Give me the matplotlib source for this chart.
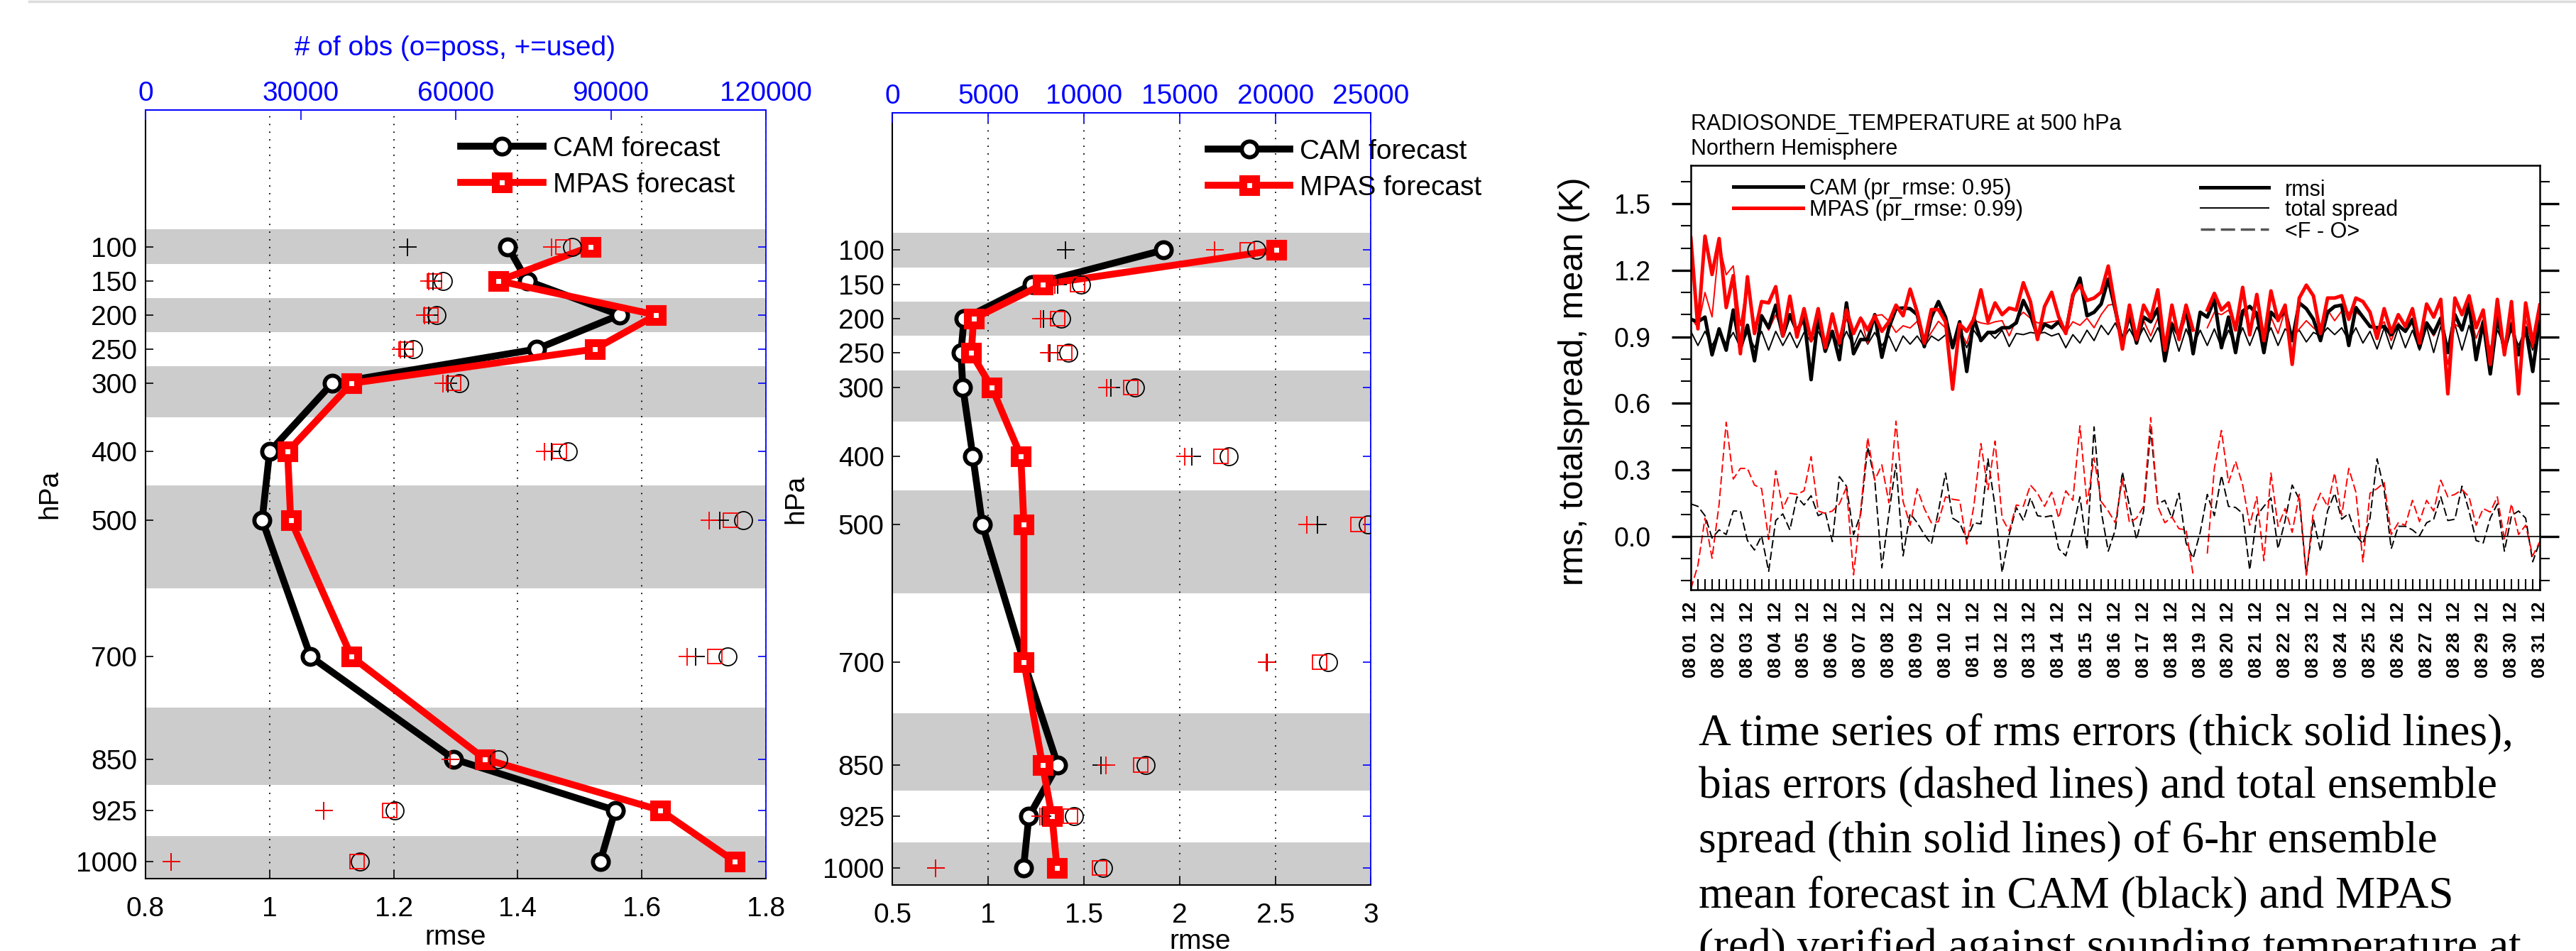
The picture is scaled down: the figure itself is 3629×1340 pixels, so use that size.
import numpy as np
import matplotlib
matplotlib.use('Agg')
import matplotlib.pyplot as plt
from matplotlib.lines import Line2D
from matplotlib.ticker import MultipleLocator

plt.rcParams['font.family'] = ['Liberation Sans', 'DejaVu Sans']

# niveis de pressao (hPa)
levels = [100, 150, 200, 250, 300, 400, 500, 700, 850, 925, 1000]
level_labels = ['100', '150', '200', '250', '300', '400', '500', '700', '850', '925', '1000']

# painel 1 (esquerda)
p1_cam_rmse = [1.384, 1.415, 1.564, 1.430, 1.101, 1.000, 0.988, 1.066, 1.297, 1.557, 1.533]
p1_mpas_rmse = [1.517, 1.369, 1.623, 1.524, 1.132, 1.029, 1.034, 1.132, 1.347, 1.630, 1.750]
p1_cam_poss = [82490, 57480, 56320, 51700, 60740, 81650, 115590, 112650, 68200, 48230, 41510]
p1_mpas_poss = [80800, 55900, 55170, 50440, 59580, 80070, 113170, 110120, 65680, 47290, 40880]
p1_cam_used = [50650, 55590, 54850, 50120, 58530, 78500, 111070, 106340, 58840, 34470, 4940]
p1_mpas_used = [78500, 54850, 54010, 49280, 57480, 77230, 108970, 104770, 58840, 34470, 4940]

# painel 2 (meio)
p2_cam_rmse = [1.915, 1.228, 0.873, 0.857, 0.867, 0.919, 0.969, 1.186, 1.363, 1.212, 1.184]
p2_mpas_rmse = [2.506, 1.283, 0.923, 0.911, 1.018, 1.170, 1.186, 1.186, 1.283, 1.333, 1.359]
p2_cam_poss = [18996, 9839, 8815, 9197, 12670, 17550, 24820, 22770, 13230, 9478, 10980]
p2_mpas_poss = [18530, 9660, 8630, 8990, 12430, 17170, 24300, 22310, 12970, 9300, 10800]
p2_cam_used = [9036, 8635, 7890, 8230, 11400, 15620, 22210, 19580, 10900, 7790, 2229]
p2_mpas_used = [16830, 8494, 7730, 8130, 11200, 15280, 21650, 19540, 11140, 7690, 2229]

# serie temporal 500 hPa (6 em 6 horas, 08 01 12 ate 08 31 12)
nan = np.nan
cam_rmse = [0.979, 0.968, 0.989, 0.819, 0.936, 0.840, 1.021, 0.845, 0.952, 0.792,
            0.995, 0.941, 1.043, 0.904, 1.000, 0.925, 0.989, 0.707, 0.989, 0.835,
            0.925, 0.797, 1.053, 0.824, 0.888, 0.888, 1.000, 0.808, 0.941, 1.027,
            1.030, 1.027, 1.000, 0.856, 0.989, 1.059, 0.989, 0.851, 0.968, 0.744,
            0.985, 0.883, 0.920, 0.920, 0.941, 0.941, 0.963, 1.064, 1.000, 0.904,
            0.957, 0.941, 0.968, 0.920, 1.085, 1.165, 0.995, 1.011, 1.048, 1.160,
            1.021, 0.872, 1.000, 0.872, 0.989, 0.968, 1.027, 0.792, 0.957, 0.904,
            1.032, 0.824, 1.011, 0.989, 1.069, 0.851, 0.989, 0.829, 1.016, 1.037,
            1.005, 0.829, 1.011, 0.979, 1.021, 0.883, 1.053, 1.027, 0.979, 0.883,
            1.011, 1.037, 1.043, 0.861, 1.032, 0.989, 0.947, 0.941, 0.947, 0.909,
            0.952, 0.925, 0.979, 0.851, 0.963, 0.915, 0.984, 0.829, 1.000, 0.931,
            1.048, 0.797, 0.968, 0.733, 0.989, 0.840, 0.957, 0.819, 0.941, 0.744,
            0.984]
mpas_rmse = [1.346, 0.936, 1.354, 1.181, 1.343, 1.032, 1.176, 0.824, 1.171, 0.915,
             1.059, 1.053, 1.126, 0.904, 1.083, 0.899, 1.027, 0.883, 1.027, 0.851,
             1.003, 0.872, 1.021, 0.915, 0.984, 0.931, 0.995, 0.925, 0.968, 1.043,
             0.995, 1.115, 1.011, 0.872, 1.023, 1.023, 0.968, 0.664, 0.957, 0.925,
             0.980, 1.112, 0.968, 1.053, 1.000, 1.030, 1.021, 1.144, 1.059, 0.888,
             1.037, 1.101, 0.990, 0.915, 1.091, 1.133, 1.064, 1.075, 1.101, 1.219,
             1.032, 0.845, 1.043, 0.888, 1.043, 0.984, 1.112, 0.840, 1.043, 0.888,
             1.043, 0.931, nan, 1.021, 1.096, 1.021, 1.053, 0.931, 1.123, 0.909,
             1.091, 0.883, 1.107, 0.973, 1.043, 0.776, 1.075, 1.133, 1.085, 0.915,
             1.075, 1.075, 1.085, 0.979, 1.075, 1.059, 1.011, 0.893, 1.027, 0.920,
             1.000, 0.947, 1.027, 0.872, 1.048, 0.989, 1.069, 0.643, 1.075, 1.000,
             1.085, 0.941, 1.021, 0.776, 1.069, 0.819, 1.059, 0.643, 1.053, 0.872,
             1.043]
cam_spread = [0.925, 0.861, 0.925, 0.861, 0.925, 0.867, 0.920, 0.851, 0.920, 0.851,
              0.925, 0.840, 0.925, 0.861, 0.920, 0.851, 0.920, 0.877, 0.925, 0.861,
              0.920, 0.856, 0.925, 0.856, 0.931, 0.867, 0.920, 0.861, 0.904, 0.835,
              0.904, 0.867, 0.904, 0.856, 0.904, 0.883, 0.909, 0.872, 0.925, 0.851,
              0.930, 0.883, 0.925, 0.893, 0.930, 0.856, 0.915, 0.910, 0.920, 0.915,
              0.920, 0.904, 0.915, 0.851, 0.910, 0.872, 0.930, 0.883, 0.952, 0.910,
              0.963, 0.883, 0.936, 0.877, 0.941, 0.877, 0.941, 0.872, 0.941, 0.835,
              0.936, 0.861, 0.930, 0.861, 0.936, 0.851, 0.930, 0.861, 0.941, 0.861,
              0.944, 0.883, 0.941, 0.861, 0.936, 0.904, 0.930, 0.877, 0.920, 0.904,
              0.941, 0.910, 0.941, 0.883, 0.941, 0.872, 0.925, 0.845, 0.941, 0.845,
              0.941, 0.851, 0.930, 0.840, 0.947, 0.829, 0.947, 0.829, 0.957, 0.840,
              0.952, 0.840, 0.947, 0.840, 0.930, 0.861, 0.930, 0.861, 0.936, 0.840,
              0.941]
mpas_spread = [0.990, 0.940, 1.100, 0.990, 1.320, 1.180, 1.220, 0.950, 1.150, 0.960,
               1.000, 0.930, 1.000, 0.920, 0.990, 0.920, 0.970, 0.900, 0.980, 0.880,
               0.980, 0.890, 0.980, 0.915, 0.990, 0.870, 0.995, 1.000, 0.970, 0.920,
               0.950, 0.940, 0.970, 0.870, 0.920, 0.970, 0.940, 0.880, 0.930, 0.870,
               0.975, 0.963, 0.957, 0.968, 0.973, 0.904, 0.979, 1.011, 0.984, 0.963,
               0.963, 0.968, 0.973, 0.920, 0.968, 0.952, 0.984, 0.941, 1.000, 1.043,
               1.048, 0.893, 0.989, 0.893, 0.973, 0.904, 0.984, 0.883, 0.968, 0.893,
               0.989, 0.936, nan, 0.941, 1.011, 1.000, 1.021, 0.941, 1.021, 0.947,
               1.005, 0.861, 0.989, 0.915, 1.021, 0.893, 0.936, 0.973, 0.941, 0.915,
               1.021, 0.973, 1.016, 1.011, 1.011, 0.989, 0.947, 0.931, 0.968, 0.883,
               0.963, 0.920, 0.963, 0.861, 0.957, 0.904, 0.968, 0.776, 0.957, 0.936,
               1.021, 0.893, 0.979, 0.840, 0.989, 0.861, 0.968, 0.829, 0.979, 0.851,
               0.989]
cam_bias = [0.147, 0.136, 0.094, -0.007, 0.030, 0.009, 0.115, 0.115, -0.018, -0.061,
            0.003, -0.157, 0.072, 0.102, 0.030, 0.179, 0.142, 0.184, 0.094, 0.110,
            -0.023, 0.270, 0.227, 0.009, 0.099, 0.403, 0.254, -0.141, 0.104, 0.328,
            -0.087, 0.104, 0.062, 0.009, -0.034, 0.115, 0.286, 0.083, 0.062, -0.013,
            0.062, 0.057, 0.350, 0.136, -0.162, 0.009, 0.131, 0.072, 0.174, 0.094,
            0.088, 0.094, -0.055, -0.087, 0.030, 0.179, -0.055, 0.494, 0.115, -0.066,
            0.030, 0.291, 0.136, -0.013, 0.115, 0.483, 0.147, 0.163, 0.083, 0.195,
            -0.029, -0.098, 0.019, 0.190, 0.094, 0.275, 0.136, 0.131, 0.104, -0.151,
            0.094, 0.136, 0.174, -0.055, 0.072, 0.232, 0.168, -0.173, 0.078, -0.066,
            0.115, 0.195, 0.078, 0.104, 0.009, -0.034, 0.083, 0.350, 0.211, -0.055,
            0.046, 0.046, 0.030, 0.003, 0.062, 0.078, 0.179, 0.072, 0.078, 0.227,
            0.115, -0.018, -0.029, 0.083, 0.147, -0.066, 0.094, 0.115, 0.083, -0.114,
            -0.023]
mpas_bias = [-0.237, -0.130, 0.083, -0.098, 0.147, 0.515, 0.259, 0.307, 0.307, 0.232,
             0.216, -0.013, 0.296, 0.126, 0.195, 0.190, 0.206, 0.360, 0.115, 0.104,
             0.115, 0.147, 0.222, -0.173, 0.115, 0.446, 0.254, 0.323, 0.152, 0.520,
             0.158, 0.051, 0.216, 0.126, 0.062, 0.067, 0.179, 0.168, 0.163, -0.034,
             0.136, 0.419, 0.211, 0.430, 0.083, 0.025, 0.142, 0.136, 0.232, 0.195,
             0.136, 0.200, 0.083, 0.206, 0.163, 0.499, 0.147, 0.355, 0.158, 0.115,
             0.062, 0.259, 0.062, 0.083, 0.136, 0.536, 0.136, 0.062, 0.088, 0.035,
             0.030, -0.173, nan, -0.077, 0.307, 0.478, 0.243, 0.339, 0.232, 0.051,
             0.179, -0.109, 0.286, 0.046, 0.126, 0.019, 0.190, -0.173, 0.115, 0.195,
             0.136, 0.286, 0.094, 0.307, 0.200, -0.114, 0.195, 0.216, 0.243, 0.009,
             0.062, 0.051, 0.163, 0.067, 0.163, 0.115, 0.254, 0.179, 0.190, 0.211,
             0.179, 0.051, 0.126, 0.110, 0.179, -0.013, 0.147, 0.009, 0.051, -0.087,
             -0.023]
tick_days = list(range(1, 32))

for serie in [mpas_rmse, cam_spread, mpas_spread, cam_bias, mpas_bias]:
    assert len(serie) == len(cam_rmse)

caption = ['A time series of rms errors (thick solid lines),',
           'bias errors (dashed lines) and total ensemble',
           'spread (thin solid lines) of 6-hr ensemble',
           'mean forecast in CAM (black) and MPAS',
           '(red) verified against sounding temperature at']

W, H = 3630, 1340
fig = plt.figure(figsize=(W / 100, H / 100), dpi=100)

# linha cinza no topo da pagina
fig.add_artist(Line2D([41 / W, 1], [1 - 1.5 / H] * 2, color='#dcdcdc', lw=2.5))

P_BOTTOM, P_TOP = 1025, -100
FS = 28
LW = 7
CAM_M = dict(marker='o', ms=16, mew=4.2, mfc='white')
MPAS_M = dict(marker='s', ms=13, mew=8, mfc='white')


def profile_panel(rect, cam_r, mpas_r, cam_p, mpas_p, cam_u, mpas_u,
                  xlim, xticks, xlabels, obs_lim, obs_ticks, leg, hpa_x, rmse_xy):
    ax = fig.add_axes(rect)

    # faixas cinzas em niveis alternados
    n = len(levels)
    for k in range(0, n, 2):
        lo = (levels[k - 1] + levels[k]) / 2 if k > 0 else levels[0] - (levels[1] - levels[0]) / 2
        hi = (levels[k] + levels[k + 1]) / 2 if k < n - 1 else P_BOTTOM
        ax.axhspan(lo, hi, color='#cccccc', lw=0, zorder=0)

    ax.plot(cam_r, levels, color='k', lw=LW, zorder=3, **CAM_M)
    ax.plot(mpas_r, levels, color='r', lw=LW, zorder=4, **MPAS_M)

    ax.set_ylim(P_BOTTOM, P_TOP)
    ax.set_yticks(levels)
    ax.set_yticklabels(level_labels)
    ax.set_xlim(xlim)
    ax.set_xticks(xticks)
    ax.set_xticklabels(xlabels)
    ax.tick_params(direction='in', labelsize=FS, length=8, width=1.2, right=True)
    ax.tick_params(axis='y', pad=8.5)
    ax.tick_params(axis='x', pad=18)
    ax.grid(axis='x', color='k', lw=1.3, ls=(0, (1, 5)))
    for s in ['left', 'bottom']:
        ax.spines[s].set_linewidth(1.5)
    for s in ['top', 'right']:
        ax.spines[s].set_color('blue')
        ax.spines[s].set_linewidth(1.3)
    for t in ax.yaxis.get_major_ticks():
        t.tick2line.set_color('blue')
        t.tick2line.set_markeredgecolor('blue')

    ax.set_ylabel('hPa', fontsize=FS)
    ax.yaxis.set_label_coords(hpa_x, 0.5)
    ax.set_xlabel('rmse', fontsize=FS)
    ax.xaxis.set_label_coords(*rmse_xy)

    # legenda
    x0, x1, xt = leg
    ax.plot([x0, (x0 + x1) / 2, x1], [0.953] * 3, markevery=[1], color='k', lw=LW,
            transform=ax.transAxes, zorder=5, **CAM_M)
    ax.plot([x0, (x0 + x1) / 2, x1], [0.906] * 3, markevery=[1], color='r', lw=LW,
            transform=ax.transAxes, zorder=5, **MPAS_M)
    ax.text(xt, 0.953, 'CAM forecast', fontsize=FS, va='center_baseline', transform=ax.transAxes)
    ax.text(xt, 0.906, 'MPAS forecast', fontsize=FS, va='center_baseline', transform=ax.transAxes)

    # eixo de cima: numero de observacoes
    ax2 = ax.twiny()
    ax2.set_xlim(obs_lim)
    ax2.set_xticks(obs_ticks)
    ax2.set_xticklabels([str(v) for v in obs_ticks])
    ax2.tick_params(axis='x', colors='blue', direction='in', length=10, width=1.2,
                    labelsize=FS, pad=3.5)
    ax2.spines['top'].set_color('blue')
    ax2.spines['top'].set_linewidth(1.3)
    for s in ['left', 'right', 'bottom']:
        ax2.spines[s].set_visible(False)
    ax2.plot(cam_p, levels, 'o', ls='none', mfc='none', mec='k', ms=18, mew=1.3)
    ax2.plot(mpas_p, levels, 's', ls='none', mfc='none', mec='r', ms=15, mew=1.3)
    ax2.plot(cam_u, levels, '+', ls='none', color='k', ms=18, mew=1.3)
    ax2.plot(mpas_u, levels, '+', ls='none', color='r', ms=18, mew=1.3)
    return ax


profile_panel([205 / W, 1 - 1238 / H, 874 / W, 1083 / H],
              p1_cam_rmse, p1_mpas_rmse, p1_cam_poss, p1_mpas_poss, p1_cam_used, p1_mpas_used,
              (0.8, 1.8), [0.8, 1.0, 1.2, 1.4, 1.6, 1.8], ['0.8', '1', '1.2', '1.4', '1.6', '1.8'],
              (0, 120000), [0, 30000, 60000, 90000, 120000],
              (0.508, 0.641, 0.657), -0.134, (0.5, -0.060))

profile_panel([1257.5 / W, 1 - 1247 / H, 674 / W, 1088 / H],
              p2_cam_rmse, p2_mpas_rmse, p2_cam_poss, p2_mpas_poss, p2_cam_used, p2_mpas_used,
              (0.5, 3.0), [0.5, 1.0, 1.5, 2.0, 2.5, 3.0], ['0.5', '1', '1.5', '2', '2.5', '3'],
              (0, 25000), [0, 5000, 10000, 15000, 20000, 25000],
              (0.660, 0.830, 0.851), -0.176, (0.642, -0.057))

fig.text(641 / W, 1 - 78 / H, '# of obs (o=poss, +=used)', color='blue', fontsize=FS,
         ha='center', va='baseline')

# painel 3: serie temporal
ax3 = fig.add_axes([2382 / W, 1 - 831 / H, 1196 / W, 598 / H])
t = np.arange(len(cam_rmse))
ax3.plot(t, cam_spread, color='k', lw=1.4)
ax3.plot(t, mpas_spread, color='r', lw=1.4)
ax3.plot(t, cam_rmse, color='k', lw=3.6)
ax3.plot(t, mpas_rmse, color='r', lw=3.6)
ax3.plot(t, cam_bias, color='k', lw=1.4, dashes=(6, 2.5))
ax3.plot(t, mpas_bias, color='r', lw=1.4, dashes=(6, 2.5))
ax3.axhline(0, color='k', lw=1.2)

ax3.set_xlim(0, len(t) - 1)
ax3.set_ylim(-0.24, 1.673)
ax3.set_yticks([0.0, 0.3, 0.6, 0.9, 1.2, 1.5])
ax3.set_yticklabels(['0.0', '0.3', '0.6', '0.9', '1.2', '1.5'])
ax3.yaxis.set_minor_locator(MultipleLocator(0.1))
ax3.tick_params(axis='y', which='both', direction='out', left=True, right=True, labelsize=27)
ax3.tick_params(axis='y', which='major', length=19.5, width=2.4, pad=21)
ax3.tick_params(axis='y', which='minor', length=10, width=1.5)

ax3.set_xticks(t[::4])
ax3.set_xticklabels(['08 %02d  12' % d for d in tick_days], rotation=90,
                    fontsize=18.5, fontweight='bold')
ax3.xaxis.set_minor_locator(MultipleLocator(1))
ax3.tick_params(axis='x', which='both', direction='in', length=10.8, width=1.5)
ax3.tick_params(axis='x', which='major', pad=12)
for s in ax3.spines.values():
    s.set_linewidth(1.8)

ax3.set_ylabel('rms, totalspread, mean (K)', fontsize=35)
ax3.yaxis.set_label_coords(-0.119, 0.492)

# legenda do painel da direita
tr = ax3.transAxes
ax3.plot([0.050, 0.132], [0.950, 0.950], color='k', lw=3.6, transform=tr)
ax3.plot([0.050, 0.132], [0.900, 0.900], color='r', lw=3.6, transform=tr)
ax3.text(0.140, 0.950, 'CAM (pr_rmse: 0.95)', fontsize=22, va='center_baseline', transform=tr)
ax3.text(0.140, 0.900, 'MPAS (pr_rmse: 0.99)', fontsize=22, va='center_baseline', transform=tr)
ax3.plot([0.600, 0.681], [0.948, 0.948], color='k', lw=3.6, transform=tr)
ax3.plot([0.600, 0.681], [0.900, 0.900], color='k', lw=1.4, transform=tr)
ax3.plot([0.600, 0.681], [0.849, 0.849], color='#555555', lw=2.5, dashes=(5.8, 2.3), transform=tr)
ax3.text(0.700, 0.948, 'rmsi', fontsize=22, va='center_baseline', transform=tr)
ax3.text(0.700, 0.900, 'total spread', fontsize=22, va='center_baseline', transform=tr)
ax3.text(0.700, 0.849, '<F - O>', fontsize=22, va='center_baseline', transform=tr)

fig.text(2382 / W, 1 - 183 / H, 'RADIOSONDE_TEMPERATURE at 500 hPa', fontsize=22, va='baseline')
fig.text(2382 / W, 1 - 218 / H, 'Northern Hemisphere', fontsize=22, va='baseline')

# legenda em texto (cortada na borda inferior)
baselines = [1049, 1124, 1201, 1278, 1352]
for linha, yb in zip(caption, baselines):
    fig.text(2393 / W, 1 - yb / H, linha, fontsize=45.5, family='Liberation Serif', va='baseline')

fig.savefig('out.png', dpi=100)
